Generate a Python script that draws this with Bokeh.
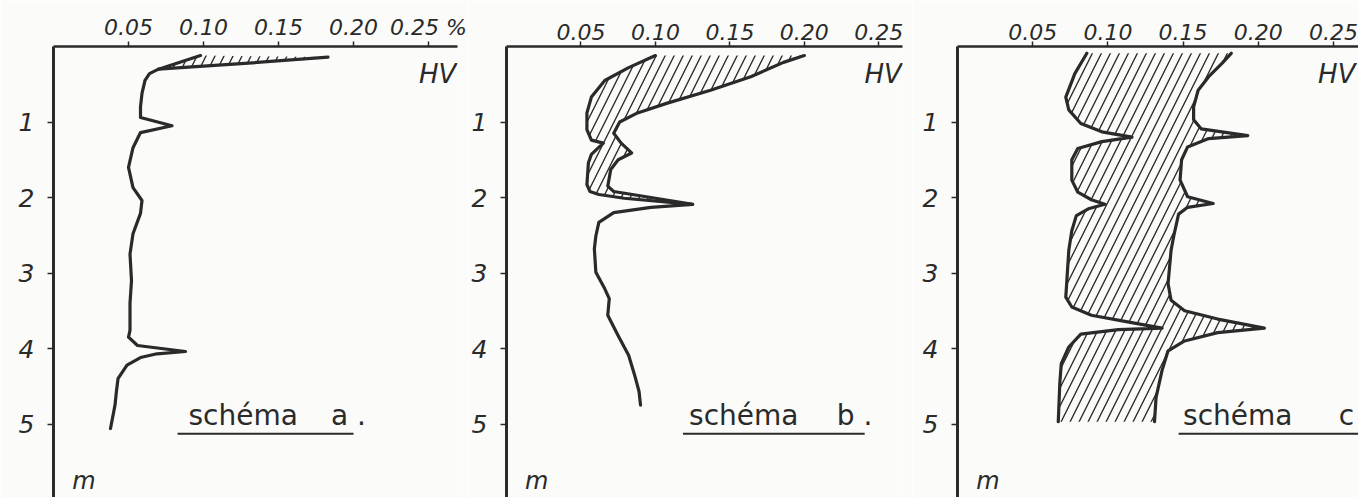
import zlib
import struct
import base64
from bokeh.plotting import figure
from bokeh.layouts import row
from bokeh.models import Range1d, FixedTicker, Label, ImageURLTexture
from bokeh.embed import file_html
from bokeh.resources import INLINE

# ---------------- data ----------------
x_ticks = [0.05, 0.10, 0.15, 0.20, 0.25]
x_tick_labels = ["0.05", "0.10", "0.15", "0.20", "0.25"]
depth_ticks = [1, 2, 3, 4, 5]
depth_tick_labels = ["1", "2", "3", "4", "5"]
title_word = "schéma"
panel_letters = ["a .", "b .", "c"]
value_unit = "%"
series_label = "HV"
depth_unit = "m"

# schéma a
a_left_depth = [0.12, 0.30, 0.36, 0.45, 0.62, 0.80, 0.94, 1.05, 1.14, 1.34, 1.60, 1.87, 2.04,
                2.21, 2.48, 2.75, 3.10, 3.40, 3.76, 3.85, 3.96, 4.04, 4.07, 4.12, 4.22, 4.40,
                4.56, 4.75, 5.06]
a_left_value = [0.098, 0.070, 0.064, 0.061, 0.059, 0.058, 0.058, 0.079, 0.058, 0.053, 0.050,
                0.053, 0.059, 0.058, 0.053, 0.051, 0.052, 0.051, 0.051, 0.050, 0.056, 0.088,
                0.069, 0.058, 0.049, 0.043, 0.042, 0.041, 0.038]
a_right_depth = [0.14, 0.22, 0.30]
a_right_value = [0.183, 0.130, 0.070]

# schéma b
b_left_depth = [0.12, 0.28, 0.45, 0.67, 0.88, 1.10, 1.24, 1.28, 1.43, 1.54, 1.83, 1.92, 1.96,
                2.01, 2.09, 2.13, 2.20, 2.33, 2.51, 2.68, 2.99, 3.21, 3.34, 3.56, 3.83, 4.09,
                4.35, 4.57, 4.75]
b_left_value = [0.100, 0.082, 0.066, 0.057, 0.054, 0.054, 0.057, 0.065, 0.057, 0.055, 0.054,
                0.056, 0.062, 0.079, 0.125, 0.097, 0.072, 0.062, 0.060, 0.059, 0.060, 0.066,
                0.069, 0.068, 0.075, 0.082, 0.086, 0.089, 0.090]
b_right_depth = [0.12, 0.21, 0.40, 0.58, 0.75, 0.88, 1.00, 1.15, 1.28, 1.41, 1.50, 1.63, 1.85,
                 1.92, 2.00, 2.09]
b_right_value = [0.200, 0.186, 0.164, 0.137, 0.108, 0.088, 0.076, 0.072, 0.077, 0.084, 0.075,
                 0.070, 0.068, 0.072, 0.097, 0.125]

# schéma c
c_left_depth = [0.09, 0.36, 0.67, 0.84, 1.02, 1.13, 1.20, 1.26, 1.35, 1.50, 1.77, 1.93, 2.03,
                2.09, 2.15, 2.24, 2.44, 2.70, 3.32, 3.45, 3.56, 3.65, 3.73, 3.75, 3.81, 3.98,
                4.20, 4.47, 4.97]
c_left_value = [0.086, 0.078, 0.072, 0.074, 0.082, 0.096, 0.116, 0.096, 0.080, 0.076, 0.076,
                0.080, 0.089, 0.098, 0.087, 0.079, 0.076, 0.074, 0.072, 0.076, 0.089, 0.114,
                0.136, 0.107, 0.082, 0.074, 0.069, 0.068, 0.067]
c_right_depth = [0.09, 0.22, 0.40, 0.58, 0.80, 0.97, 1.09, 1.18, 1.22, 1.33, 1.50, 1.77, 1.99,
                 2.08, 2.13, 2.22, 2.49, 2.70, 3.14, 3.36, 3.50, 3.61, 3.73, 3.79, 3.90, 4.03,
                 4.29, 4.65, 4.97]
c_right_value = [0.182, 0.176, 0.167, 0.160, 0.157, 0.157, 0.162, 0.193, 0.167, 0.153, 0.149,
                 0.148, 0.153, 0.170, 0.153, 0.147, 0.144, 0.142, 0.140, 0.142, 0.151, 0.173,
                 0.204, 0.173, 0.151, 0.140, 0.136, 0.132, 0.131]

# ---------------- style ----------------
INK = "#2a2a2a"
INK_RGB = (42, 42, 42)
BG = "#fbfbf9"
FIG_H = 497
BORDER_TOP = 46
BORDER_BOTTOM = 0
PX_PER_M = 75.5
DEPTH_MAX = (FIG_H - BORDER_TOP - BORDER_BOTTOM) / PX_PER_M


def steep_hatch_png(w=9, h=18, lw=1.3, ss=4):
    """Small RGBA tile with one steep '/' stroke, tiled to make the hatching."""
    norm = (w * w + h * h) ** 0.5
    per = w * h
    raw = bytearray()
    for y in range(h):
        raw.append(0)
        for x in range(w):
            cov = 0.0
            for sy in range(ss):
                for sx in range(ss):
                    px = x + (sx + 0.5) / ss
                    py = y + (sy + 0.5) / ss
                    s = (h * px + w * py) % per
                    d = min(s, per - s) / norm
                    if d <= lw / 2:
                        cov += 1
            a = int(round(255 * cov / (ss * ss)))
            raw += bytes([INK_RGB[0], INK_RGB[1], INK_RGB[2], a])

    def chunk(tag, data):
        return (struct.pack(">I", len(data)) + tag + data
                + struct.pack(">I", zlib.crc32(tag + data) & 0xffffffff))

    png = (b"\x89PNG\r\n\x1a\n"
           + chunk(b"IHDR", struct.pack(">IIBBBBB", w, h, 8, 6, 0, 0, 0))
           + chunk(b"IDAT", zlib.compress(bytes(raw), 9))
           + chunk(b"IEND", b""))
    return "data:image/png;base64," + base64.b64encode(png).decode("ascii")


HATCH_URL = steep_hatch_png()


def label(x, y, text, size, italic=True, align="left"):
    return Label(x=x, y=y, text=text, text_align=align, text_baseline="middle",
                 text_font="DejaVu Sans", text_font_style="italic" if italic else "normal",
                 text_font_size=size, text_color=INK)


def make_panel(width, border_left, border_right, px_per_unit, ld, lv, rd, rv, letter,
               title_x, letter_x, under_x0, under_x1, hv_x, y_standoff, tick_labels):
    frame_w = width - border_left - border_right
    xmax = frame_w / px_per_unit
    p = figure(width=width, height=FIG_H, x_range=Range1d(0, xmax),
               y_range=Range1d(DEPTH_MAX, 0), x_axis_location="above",
               output_backend="svg", toolbar_location=None,
               min_border_left=border_left, min_border_right=border_right,
               min_border_top=BORDER_TOP, min_border_bottom=BORDER_BOTTOM,
               background_fill_color=BG, border_fill_color=BG)
    p.outline_line_color = None
    p.grid.visible = False

    xa = p.xaxis[0]
    xa.ticker = FixedTicker(ticks=x_ticks)
    xa.major_label_overrides = {t: l for t, l in zip(x_ticks, tick_labels)}
    xa.major_label_text_font = "DejaVu Sans"
    xa.major_label_text_font_style = "italic"
    xa.major_label_text_font_size = "22px"
    xa.major_label_text_color = INK
    xa.major_label_standoff = 2
    xa.major_tick_out = 5
    xa.major_tick_in = 0
    xa.minor_tick_out = 0
    xa.minor_tick_in = 0
    xa.axis_line_width = 2.5
    xa.axis_line_color = INK
    xa.major_tick_line_color = INK
    xa.major_tick_line_width = 1.5

    ya = p.yaxis[0]
    ya.ticker = FixedTicker(ticks=depth_ticks)
    ya.major_label_overrides = {t: l for t, l in zip(depth_ticks, depth_tick_labels)}
    ya.major_label_text_font = "DejaVu Sans"
    ya.major_label_text_font_style = "italic"
    ya.major_label_text_font_size = "25px"
    ya.major_label_text_color = INK
    ya.major_label_standoff = y_standoff
    ya.major_tick_out = 6
    ya.major_tick_in = 0
    ya.minor_tick_out = 0
    ya.minor_tick_in = 0
    ya.axis_line_width = 3
    ya.axis_line_color = INK
    ya.major_tick_line_color = INK
    ya.major_tick_line_width = 1.5

    # hatched region between the two profiles
    top_part = [(d, v) for d, v in zip(ld, lv) if d <= rd[-1]]
    hx = [v for d, v in top_part] + rv[::-1]
    hy = [d for d, v in top_part] + rd[::-1]
    p.patch(hx, hy, fill_color=None, line_color=None, hatch_pattern="steep",
            hatch_extra={"steep": ImageURLTexture(url=HATCH_URL, repetition="repeat")})

    p.line(rv, rd, line_width=3.2, line_color=INK, line_join="round", line_cap="round")
    p.line(lv, ld, line_width=3.2, line_color=INK, line_join="round", line_cap="round")

    p.add_layout(label(hv_x, 0.36, series_label, "26px", align="right"))
    p.add_layout(label(title_x, 4.89, title_word, "28px", italic=False))
    p.add_layout(label(letter_x, 4.89, letter, "28px", italic=False))
    p.segment(x0=[under_x0], y0=[5.13], x1=[under_x1], y1=[5.13],
              line_width=2, line_color=INK)
    p.add_layout(label(0.0125, 5.75, depth_unit, "24px"))
    return p


# "%" unit written after the last tick value of the first panel
a_tick_labels = x_tick_labels[:-1] + [x_tick_labels[-1] + " " + value_unit]

# panel a: canvas 0..468, frame 53..457
pa = make_panel(468, 53, 11, 1500.0, a_left_depth, a_left_value, a_right_depth, a_right_value,
                panel_letters[0], 0.090, 0.185, 0.0827, 0.200, 0.2685, 13, a_tick_labels)
# panel b: canvas 468..912, frame 505..902
pb = make_panel(444, 37, 10, 1493.0, b_left_depth, b_left_value, b_right_depth, b_right_value,
                panel_letters[1], 0.1226, 0.2218, 0.1185, 0.2405, 0.2655, 13, x_tick_labels)
# panel c: canvas 912..1358, frame 957..1358
pc = make_panel(446, 45, 0, 1504.0, c_left_depth, c_left_value, c_right_depth, c_right_value,
                panel_letters[2], 0.150, 0.2535, 0.147, 0.267, 0.2646, 13, x_tick_labels)

layout = row(pa, pb, pc)
open("out.html", "w").write(file_html(layout, INLINE))
